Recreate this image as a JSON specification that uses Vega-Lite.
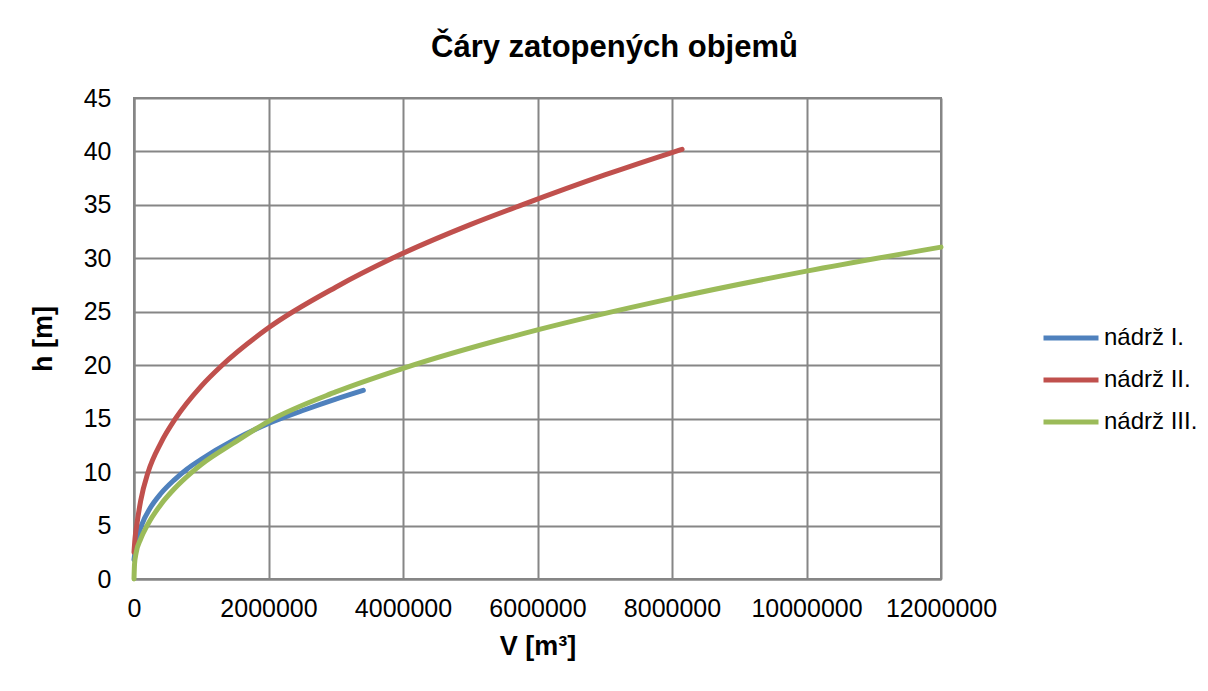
{
  "$schema": "https://vega.github.io/schema/vega-lite/v6.json",
  "width": 807,
  "height": 481,
  "autosize": {"type": "none"},
  "padding": {"left": 134, "top": 98, "right": 267, "bottom": 112},
  "background": "white",
  "title": {
    "text": "Čáry zatopených objemů",
    "font": "Liberation Sans",
    "fontSize": 31,
    "fontWeight": "bold",
    "color": "#000000",
    "anchor": "middle",
    "dx": 77,
    "offset": 22
  },
  "data": {
    "values": [
      {"s": "nádrž I.", "V": 0, "h": 1.8},
      {"s": "nádrž I.", "V": 20000, "h": 2.7},
      {"s": "nádrž I.", "V": 50000, "h": 3.75},
      {"s": "nádrž I.", "V": 115000, "h": 5.07},
      {"s": "nádrž I.", "V": 240000, "h": 6.64},
      {"s": "nádrž I.", "V": 400000, "h": 8.0},
      {"s": "nádrž I.", "V": 600000, "h": 9.28},
      {"s": "nádrž I.", "V": 790000, "h": 10.3},
      {"s": "nádrž I.", "V": 1000000, "h": 11.2},
      {"s": "nádrž I.", "V": 1480000, "h": 12.98},
      {"s": "nádrž I.", "V": 2000000, "h": 14.55},
      {"s": "nádrž I.", "V": 2500000, "h": 15.74},
      {"s": "nádrž I.", "V": 3000000, "h": 16.83},
      {"s": "nádrž I.", "V": 3410000, "h": 17.65},
      {"s": "nádrž II.", "V": 0, "h": 2.5},
      {"s": "nádrž II.", "V": 15000, "h": 3.8},
      {"s": "nádrž II.", "V": 40000, "h": 5.0},
      {"s": "nádrž II.", "V": 100000, "h": 7.34},
      {"s": "nádrž II.", "V": 210000, "h": 10.0},
      {"s": "nádrž II.", "V": 400000, "h": 12.74},
      {"s": "nádrž II.", "V": 616000, "h": 15.0},
      {"s": "nádrž II.", "V": 1000000, "h": 18.05},
      {"s": "nádrž II.", "V": 1310000, "h": 20.0},
      {"s": "nádrž II.", "V": 2000000, "h": 23.5},
      {"s": "nádrž II.", "V": 3000000, "h": 27.3},
      {"s": "nádrž II.", "V": 3840000, "h": 30.0},
      {"s": "nádrž II.", "V": 5000000, "h": 33.15},
      {"s": "nádrž II.", "V": 5770000, "h": 35.0},
      {"s": "nádrž II.", "V": 7000000, "h": 37.8},
      {"s": "nádrž II.", "V": 8000000, "h": 39.9},
      {"s": "nádrž II.", "V": 8150000, "h": 40.2},
      {"s": "nádrž III.", "V": 0, "h": 0},
      {"s": "nádrž III.", "V": 8000, "h": 1.4},
      {"s": "nádrž III.", "V": 30000, "h": 2.4},
      {"s": "nádrž III.", "V": 100000, "h": 3.75},
      {"s": "nádrž III.", "V": 200000, "h": 5.05},
      {"s": "nádrž III.", "V": 400000, "h": 6.98},
      {"s": "nádrž III.", "V": 600000, "h": 8.44},
      {"s": "nádrž III.", "V": 863000, "h": 10.0},
      {"s": "nádrž III.", "V": 1000000, "h": 10.71},
      {"s": "nádrž III.", "V": 1476000, "h": 12.7},
      {"s": "nádrž III.", "V": 2000000, "h": 14.75},
      {"s": "nádrž III.", "V": 3000000, "h": 17.5},
      {"s": "nádrž III.", "V": 4000000, "h": 19.7},
      {"s": "nádrž III.", "V": 6000000, "h": 23.3},
      {"s": "nádrž III.", "V": 8000000, "h": 26.25},
      {"s": "nádrž III.", "V": 10000000, "h": 28.8},
      {"s": "nádrž III.", "V": 12000000, "h": 31.05}
    ]
  },
  "mark": {"type": "line", "strokeWidth": 5, "interpolate": "monotone", "strokeCap": "round"},
  "encoding": {
    "x": {
      "field": "V",
      "type": "quantitative",
      "scale": {"domain": [0, 12000000], "nice": false},
      "axis": {
        "values": [0, 2000000, 4000000, 6000000, 8000000, 10000000, 12000000],
        "format": "d",
        "title": "V [m³]",
        "titleFont": "Liberation Sans",
        "titleFontSize": 27,
        "titleFontWeight": "bold",
        "titleColor": "#000000",
        "titlePadding": 12,
        "labelFont": "Liberation Sans",
        "labelFontSize": 25,
        "labelColor": "#000000",
        "labelPadding": 17,
        "labelOverlap": false,
        "labelFlush": false,
        "ticks": false,
        "domainColor": "#868686",
        "domainWidth": 2,
        "grid": true,
        "gridColor": "#868686",
        "gridWidth": 2
      }
    },
    "y": {
      "field": "h",
      "type": "quantitative",
      "scale": {"domain": [0, 45], "nice": false},
      "axis": {
        "values": [0, 5, 10, 15, 20, 25, 30, 35, 40, 45],
        "title": "h [m]",
        "titleFont": "Liberation Sans",
        "titleFontSize": 27,
        "titleFontWeight": "bold",
        "titleColor": "#000000",
        "titlePadding": 26,
        "labelFont": "Liberation Sans",
        "labelFontSize": 25,
        "labelColor": "#000000",
        "labelPadding": 23,
        "labelFlush": false,
        "ticks": false,
        "domainColor": "#868686",
        "domainWidth": 2,
        "grid": true,
        "gridColor": "#868686",
        "gridWidth": 2
      }
    },
    "color": {
      "field": "s",
      "type": "nominal",
      "scale": {"domain": ["nádrž I.", "nádrž II.", "nádrž III."], "range": ["#4F81BD", "#C0504D", "#9BBB59"]},
      "legend": {
        "title": null,
        "orient": "none",
        "legendX": 907,
        "legendY": 210,
        "symbolType": "stroke",
        "symbolSize": 3025,
        "symbolStrokeWidth": 5,
        "labelFont": "Liberation Sans",
        "labelFontSize": 24,
        "labelColor": "#000000",
        "labelOffset": 3,
        "rowPadding": -6
      }
    }
  },
  "config": {
    "view": {"stroke": "#868686", "strokeWidth": 2}
  }
}
